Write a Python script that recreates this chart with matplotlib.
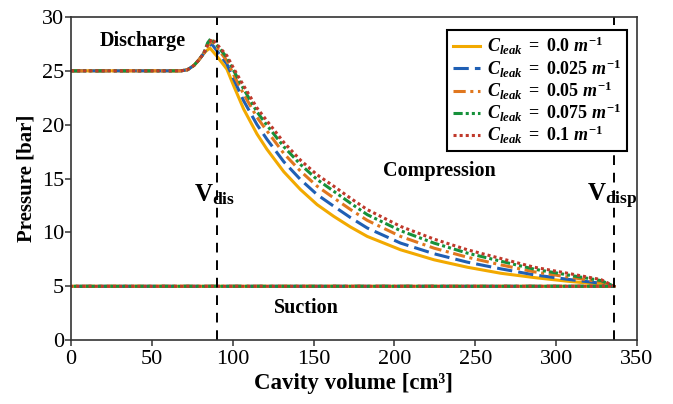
import numpy as np
import matplotlib
matplotlib.use("Agg")
import matplotlib.pyplot as plt

# ==========================================
# 數據
# ==========================================
labels = [r"$C_{leak}\ =\ 0.0\ m^{-1}$",
          r"$C_{leak}\ =\ 0.025\ m^{-1}$",
          r"$C_{leak}\ =\ 0.05\ m^{-1}$",
          r"$C_{leak}\ =\ 0.075\ m^{-1}$",
          r"$C_{leak}\ =\ 0.1\ m^{-1}$"]

# 排氣段 (上升至峰值)
v_discharge = [0, 68, 72, 76, 79, 82]
p_discharge = [25.0, 25.0, 25.1, 25.5, 26.0, 26.6]

# 峰值附近
v_peak = [[84.0, 86.0, 90.0],
          [84.5, 87.0, 90.0],
          [85.0, 87.0, 90.0],
          [84.5, 86.5, 90.0],
          [85.0, 87.5, 90.0]]
p_peak = [[26.9, 27.1, 26.4],
          [27.2, 27.5, 26.9],
          [27.4, 27.8, 27.2],
          [27.6, 28.0, 27.4],
          [27.6, 27.95, 27.5]]

# 壓縮段
v_comp = [96.4, 100.6, 106.8, 115.0, 121.2, 131.6, 141.9, 152.2, 162.5, 172.9, 183.2,
          203.8, 224.5, 245.1, 265.8, 286.5, 307.1, 327.8, 336]
p_comp = [
    [25.16, 23.61, 21.44, 19.14, 17.71, 15.63, 13.98, 12.58, 11.49, 10.50, 9.63,
     8.39, 7.46, 6.77, 6.21, 5.81, 5.47, 5.19, 5.0],
    [25.63, 24.23, 22.21, 20.01, 18.64, 16.56, 14.91, 13.51, 12.43, 11.37, 10.41,
     9.01, 8.02, 7.24, 6.62, 6.06, 5.65, 5.28, 5.0],
    [25.94, 24.63, 22.83, 20.69, 19.42, 17.33, 15.69, 14.29, 13.20, 12.12, 11.12,
     9.63, 8.54, 7.70, 6.99, 6.34, 5.87, 5.41, 5.0],
    [26.25, 25.01, 23.30, 21.19, 19.94, 17.96, 16.31, 14.91, 13.82, 12.71, 11.65,
     10.16, 9.01, 8.08, 7.33, 6.59, 6.06, 5.53, 5.0],
    [26.41, 25.22, 23.61, 21.56, 20.35, 18.36, 16.71, 15.35, 14.29, 13.17, 12.12,
     10.56, 9.38, 8.39, 7.58, 6.77, 6.21, 5.62, 5.0],
]

# 吸氣段
v_suction = [336, 0]
p_suction = [5.0, 5.0]

V_DIS = 90
V_DISP = 336

colors = ["#F2A900", "#1F5FB4", "#E0771E", "#16913A", "#C0392B"]
styles = ["-", (0, (5, 2)), (0, (4, 1.5, 1, 1.5)), (0, (3, 1, 1, 1, 1, 1)), (0, (1, 1))]

# ==========================================
# 字型設定
# ==========================================
plt.rcParams["font.family"] = "Liberation Serif"
plt.rcParams["mathtext.fontset"] = "custom"
plt.rcParams["mathtext.rm"] = "Liberation Serif:bold"
plt.rcParams["mathtext.it"] = "Liberation Serif:bold:italic"
plt.rcParams["mathtext.bf"] = "Liberation Serif:bold"

fig = plt.figure(figsize=(6.73, 4.04), dpi=100)
ax = fig.add_axes([0.1055, 0.158, 0.841, 0.8])

for i in range(5):
    v = v_discharge + v_peak[i] + v_comp + v_suction
    p = p_discharge + p_peak[i] + p_comp[i] + p_suction
    ax.plot(v, p, color=colors[i], linestyle=styles[i], lw=2.2, label=labels[i])

ax.axvline(V_DIS, color="black", linestyle=(0, (5, 4)), lw=1.4)
ax.axvline(V_DISP, color="black", linestyle=(0, (5, 4)), lw=1.4)

ax.text(44.6, 27.3, "Discharge", fontsize=14.5, fontweight="bold", ha="center", va="baseline")
ax.text(227.6, 15.2, "Compression", fontsize=14.5, fontweight="bold", ha="center", va="baseline")
ax.text(145.5, 2.5, "Suction", fontsize=14.5, fontweight="bold", ha="center", va="baseline")
ax.text(V_DIS - 1, 12.9, r"$\mathrm{V}_{\mathrm{dis}}$", fontsize=18, ha="center", va="baseline")
ax.text(V_DISP - 1, 12.9, r"$\mathrm{V}_{\mathrm{disp}}$", fontsize=18, ha="center", va="baseline")

ax.set_xlim(0, 350)
ax.set_ylim(0, 30)
ax.set_xticks(np.arange(0, 351, 50))
ax.set_yticks(np.arange(0, 31, 5))
ax.tick_params(labelsize=16, length=4, width=1.1, color="#333333")
ax.tick_params(axis="x", pad=3)
ax.tick_params(axis="y", pad=1)
for s in ax.spines.values():
    s.set_linewidth(1.2)
    s.set_color("#333333")

ax.set_xlabel("Cavity volume [cm³]", fontsize=16.5, fontweight="bold", labelpad=3)
ax.set_ylabel("Pressure [bar]", fontsize=15, fontweight="bold", labelpad=4)

leg = ax.legend(loc="upper right", bbox_to_anchor=(0.982, 0.96), fontsize=13,
                fancybox=False, edgecolor="black", framealpha=1,
                handlelength=1.5, handletextpad=0.4, labelspacing=0.0,
                borderpad=0.3, borderaxespad=0)
leg.get_frame().set_linewidth(1.5)

fig.savefig("out.png", dpi=100)
